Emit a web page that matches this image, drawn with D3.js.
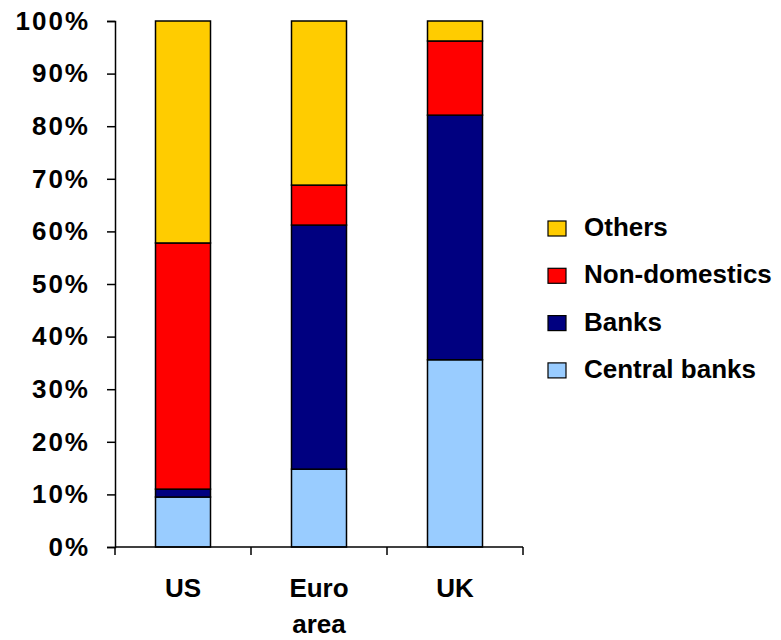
<!DOCTYPE html>
<html>
<head>
<meta charset="utf-8">
<script src="https://cdn.jsdelivr.net/npm/d3@7"></script>
<style>
  body { margin: 0; background: #fff; }
  text { font-family: "Liberation Sans", Arial, sans-serif; font-weight: bold; fill: #000; }
</style>
</head>
<body>
<svg id="chart" width="781" height="640"></svg>
<script>
const regions = ["US", "Euro area", "UK"];
const series = ["Central banks", "Banks", "Non-domestics", "Others"];
const centralBanks = [9.5, 14.8, 35.6];
const banks = [1.5, 46.4, 46.5];
const nonDomestics = [46.8, 7.6, 14.1];
const others = [42.2, 31.2, 3.8];
const yTicks = [0, 10, 20, 30, 40, 50, 60, 70, 80, 90, 100];
const colors = ["#99ccff", "#000080", "#ff0000", "#ffcc00"];

const svg = d3.select("#chart");

const rows = regions.map((r, i) => ({
  region: r,
  "Central banks": centralBanks[i],
  "Banks": banks[i],
  "Non-domestics": nonDomestics[i],
  "Others": others[i]
}));

const stacked = d3.stack().keys(series)(rows);

const x = d3.scaleBand().domain(regions).range([115, 523]).padding(0);
const y = d3.scaleLinear().domain([0, 100]).range([547, 21]);
const color = d3.scaleOrdinal().domain(series).range(colors);

const barW = 55;

// bars
svg.append("g")
  .selectAll("g")
  .data(stacked)
  .join("g")
  .attr("fill", d => color(d.key))
  .selectAll("rect")
  .data(d => d)
  .join("rect")
  .attr("x", d => x(d.data.region) + x.bandwidth() / 2 - barW / 2)
  .attr("y", d => y(d[1]))
  .attr("width", barW)
  .attr("height", d => y(d[0]) - y(d[1]))
  .attr("stroke", "#000")
  .attr("stroke-width", 1.5);

// y axis
const yAxis = svg.append("g")
  .attr("transform", "translate(115,0)")
  .call(d3.axisLeft(y).tickValues(yTicks).tickFormat(d => d + "%").tickSize(8).tickPadding(17));
yAxis.select(".domain").attr("stroke", "#000").attr("stroke-width", 1.5);
yAxis.selectAll(".tick line").attr("stroke", "#000").attr("stroke-width", 1.5);
yAxis.selectAll(".tick text")
  .style("font-size", "26px")
  .style("font-family", "'Liberation Sans', Arial, sans-serif")
  .style("font-weight", "bold")
  .style("letter-spacing", "2px")
  .attr("fill", "#000");

// x axis
const xAxis = svg.append("g")
  .attr("transform", "translate(0,547)");
xAxis.append("line")
  .attr("x1", 115).attr("x2", 523)
  .attr("y1", 0).attr("y2", 0)
  .attr("stroke", "#000").attr("stroke-width", 1.5);
const bounds = regions.map(r => x(r)).concat([x.range()[1]]);
xAxis.selectAll(".xt")
  .data(bounds)
  .join("line")
  .attr("x1", d => d).attr("x2", d => d)
  .attr("y1", 0).attr("y2", 8)
  .attr("stroke", "#000").attr("stroke-width", 1.5);

xAxis.selectAll(".xl")
  .data(regions)
  .join("text")
  .attr("text-anchor", "middle")
  .style("font-size", "26px")
  .each(function (d) {
    const words = d.split(" ");
    const t = d3.select(this);
    words.forEach((w, i) => {
      t.append("tspan")
        .attr("x", x(d) + x.bandwidth() / 2)
        .attr("y", 50 + i * 36)
        .text(w);
    });
  });

// legend (top to bottom: Others first)
const legendItems = series.slice().reverse();
const legend = svg.append("g");
legend.selectAll("rect")
  .data(legendItems)
  .join("rect")
  .attr("x", 548)
  .attr("y", (d, i) => 221 + i * 47.3)
  .attr("width", 18)
  .attr("height", 15)
  .attr("fill", d => color(d))
  .attr("stroke", "#000")
  .attr("stroke-width", 1.2);
legend.selectAll("text")
  .data(legendItems)
  .join("text")
  .attr("x", 584)
  .attr("y", (d, i) => 236 + i * 47.3)
  .style("font-size", "26px")
  .text(d => d);
</script>
</body>
</html>
